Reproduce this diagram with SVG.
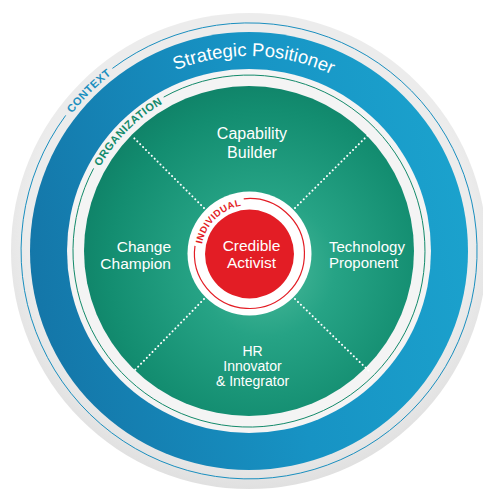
<svg xmlns="http://www.w3.org/2000/svg" width="483" height="489" viewBox="0 0 483 489">
  <defs>
    <radialGradient id="grayGrad" cx="0.5" cy="0.45" r="0.55">
      <stop offset="0.85" stop-color="#ececec"/>
      <stop offset="1" stop-color="#e0e0e0"/>
    </radialGradient>
    <linearGradient id="blueGrad" x1="0" y1="0.6" x2="1" y2="0.4">
      <stop offset="0" stop-color="#1476a8"/>
      <stop offset="0.55" stop-color="#1793c4"/>
      <stop offset="1" stop-color="#1ba2cd"/>
    </linearGradient>
    <radialGradient id="greenGrad" cx="0.55" cy="0.55" r="0.6">
      <stop offset="0" stop-color="#4dbb9c"/>
      <stop offset="0.35" stop-color="#26a385"/>
      <stop offset="0.8" stop-color="#138d70"/>
      <stop offset="1" stop-color="#0f8066"/>
    </radialGradient>
    <path id="arcStrategic" d="M 54,251 A 195,195 0 0 1 444,251"/>
    <path id="arcContext" d="M 25,251 A 224,224 0 0 1 473,251"/>
    <path id="arcOrg" d="M 78,251 A 171,171 0 0 1 420,251"/>
    <path id="arcIndiv" d="M 201,253.5 A 48.5,48.5 0 0 1 298,253.5"/>
  </defs>
  <style>
    .lbl { font-family: "Liberation Sans", Arial, sans-serif; fill: #ffffff; }
    .tag { font-family: "Liberation Sans", Arial, sans-serif; font-weight: bold; }
    .dots { stroke: #ffffff; stroke-width: 2; stroke-dasharray: 0.1 4; stroke-linecap: round; fill: none; }
  </style>

  <g id="context">
    <circle cx="249" cy="251" r="238" fill="url(#grayGrad)"/>
    <path d="M 112.4,68.4 A 228,228 0 1 1 65.7,115.4" fill="none" stroke="#1a8fbf" stroke-width="1"/>
    <text class="tag" font-size="11" letter-spacing="0.5" fill="#1a8fbf"><textPath href="#arcContext" startOffset="25%" text-anchor="middle">CONTEXT</textPath></text>
    <circle cx="249" cy="251" r="219" fill="url(#blueGrad)"/>
  </g>

  <g id="strategic-positioner">
    <text class="lbl" font-size="18.5"><textPath href="#arcStrategic" startOffset="50.8%" text-anchor="middle">Strategic Positioner</textPath></text>
  </g>

  <g id="organization">
    <circle cx="249" cy="251" r="182" fill="#f4f4f4"/>
    <path d="M 163.7,97.1 A 176,176 0 1 1 93.6,168.4" fill="none" stroke="#138a6a" stroke-width="1"/>
    <text class="tag" font-size="11" letter-spacing="0.5" fill="#138a6a"><textPath href="#arcOrg" startOffset="24.8%" text-anchor="middle">ORGANIZATION</textPath></text>
    <circle cx="249" cy="251" r="165" fill="url(#greenGrad)"/>
  </g>

  <g id="dividers">
    <line class="dots" x1="204" y1="208" x2="133" y2="137"/>
    <line class="dots" x1="295" y1="208" x2="368" y2="135"/>
    <line class="dots" x1="204" y1="299" x2="133" y2="372"/>
    <line class="dots" x1="295" y1="299" x2="370" y2="372"/>
  </g>

  <g id="capability-builder">
    <text class="lbl" font-size="16" text-anchor="middle"><tspan x="252" y="139">Capability</tspan><tspan x="252" y="157.5">Builder</tspan></text>
  </g>

  <g id="change-champion">
    <text class="lbl" font-size="15.5" text-anchor="end"><tspan x="171" y="252">Change</tspan><tspan x="171" y="268.5">Champion</tspan></text>
  </g>

  <g id="technology-proponent">
    <text class="lbl" font-size="15"><tspan x="329" y="252">Technology</tspan><tspan x="329" y="268">Proponent</tspan></text>
  </g>

  <g id="hr-innovator-integrator">
    <text class="lbl" font-size="14" text-anchor="middle"><tspan x="252.5" y="356">HR</tspan><tspan x="252.5" y="371">Innovator</tspan><tspan x="252.5" y="386">&amp; Integrator</tspan></text>
  </g>

  <g id="individual">
    <circle cx="249.5" cy="253.5" r="62" fill="#ffffff"/>
    <path d="M 243.75,198.8 A 55,55 0 1 1 195.0,245.8" fill="none" stroke="#e31d25" stroke-width="1.2"/>
    <text class="tag" font-size="9.5" letter-spacing="0.4" fill="#e31d25"><textPath href="#arcIndiv" startOffset="25.5%" text-anchor="middle">INDIVIDUAL</textPath></text>
    <circle cx="249.5" cy="254" r="44.5" fill="#e31d25"/>
  </g>

  <g id="credible-activist">
    <text class="lbl" font-size="15.5" text-anchor="middle"><tspan x="251.5" y="251">Credible</tspan><tspan x="251.5" y="268">Activist</tspan></text>
  </g>
</svg>
